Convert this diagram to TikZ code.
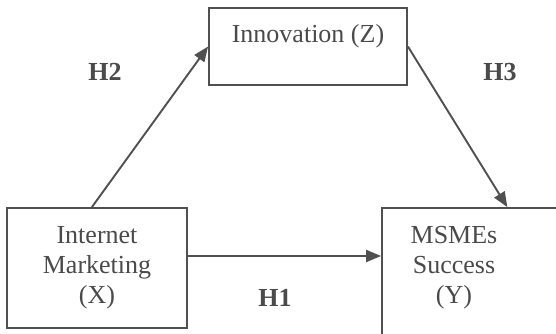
\documentclass[tikz,border=0pt]{standalone}
\usepackage{fontspec}
\setmainfont{Liberation Serif}
\usetikzlibrary{arrows.meta,calc}
\definecolor{linegray}{HTML}{505050}
\definecolor{textgray}{HTML}{4A4A4A}
\begin{document}
\begin{tikzpicture}[x=1pt,y=-1pt,
  box/.style={draw=linegray,line width=1.8pt,inner sep=0pt,text=textgray,font=\fontsize{26}{30}\selectfont,align=center},
  txt/.style={inner sep=0pt,text=textgray,font=\fontsize{26}{30}\selectfont,align=center},
  hlab/.style={inner sep=0pt,text=textgray,font=\fontsize{26}{30}\selectfont\bfseries},
  arr/.style={draw=linegray,line width=1.9pt,-{Triangle[length=15pt,width=12pt]}}]
\useasboundingbox (0,0) rectangle (556,334);
\fill[white] (0,0) rectangle (556,334);
\clip (0,0) rectangle (556,334);
\node[box,anchor=base,minimum width=198pt,text height=35pt,text depth=42pt] (Z) at (308,43) {Innovation (Z)};
\node[box,minimum width=180pt,minimum height=120pt] (X) at (97,268) {Internet\\Marketing\\(X)};
\node[box,minimum width=188pt,minimum height=132pt] (Y) at (476,274) {};
\node[txt] (Yt) at (454,268) {MSMEs\\Success\\(Y)};
\draw[arr] (X.east |- 0,256) -- (Y.west |- 0,256);
\draw[arr] ($(X.north west)!0.472!(X.north east)$) -- (Z.west);
\draw[arr] (Z.east) -- ($(Y.north west)!0.665!(Y.north east)$);
\node[hlab] (H2) at (105,72) {H2};
\node[hlab] (H3) at (500,72) {H3};
\node[hlab] (H1) at (275,298) {H1};
\end{tikzpicture}
\end{document}
